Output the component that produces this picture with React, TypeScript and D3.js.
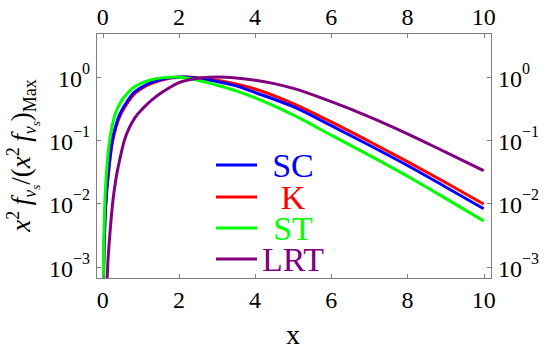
import React from "react";
import * as d3 from "d3";

const xTickValues = [0, 2, 4, 6, 8, 10];
const yTickExponents = [0, -1, -2, -3];
const yTickLabels = ["0", "−1", "−2", "−3"];

const seriesNames = ["SC", "K", "ST", "LRT"];
const seriesColors = ["#0000ff", "#ff0000", "#00ff00", "#800080"];

const scX = [0.01, 0.02, 0.05, 0.1, 0.15, 0.2, 0.25, 0.3, 0.4, 0.5, 0.65, 0.8, 1.0, 1.22, 1.5, 1.8, 2.1, 2.5, 3.0, 3.5, 4.0, 5.0, 6.0, 7.0, 8.0, 9.0, 10];
const scY = [1.58e-4, 6.31e-4, 0.00398, 0.0151, 0.0316, 0.0603, 0.1, 0.135, 0.219, 0.295, 0.417, 0.552, 0.676, 0.794, 0.902, 0.977, 1.0, 0.955, 0.851, 0.724, 0.569, 0.339, 0.17, 0.0832, 0.0398, 0.0182, 0.00824];

const kX = [0.01, 0.02, 0.05, 0.1, 0.15, 0.2, 0.25, 0.3, 0.4, 0.5, 0.65, 0.8, 1.0, 1.22, 1.5, 1.8, 2.2, 2.5, 3.0, 3.5, 4.0, 5.0, 6.0, 7.0, 8.0, 9.0, 10];
const kY = [1.41e-4, 5.62e-4, 0.00355, 0.0138, 0.0288, 0.055, 0.0891, 0.123, 0.2, 0.275, 0.389, 0.513, 0.646, 0.767, 0.881, 0.966, 1.0, 0.977, 0.891, 0.776, 0.646, 0.38, 0.195, 0.0955, 0.0457, 0.0214, 0.00977];

const stX = [0.01, 0.02, 0.05, 0.1, 0.15, 0.2, 0.3, 0.4, 0.5, 0.65, 0.8, 1.0, 1.3, 1.6, 1.9, 2.5, 3.0, 3.5, 4.0, 5.0, 6.0, 7.0, 8.0, 9.0, 10];
const stY = [2.82e-4, 0.00112, 0.00794, 0.0316, 0.0708, 0.1175, 0.229, 0.331, 0.427, 0.552, 0.676, 0.794, 0.912, 0.977, 1.0, 0.891, 0.741, 0.603, 0.468, 0.251, 0.12, 0.0575, 0.0269, 0.012, 0.00527];

const lrtX = [0.05, 0.1, 0.13, 0.2, 0.26, 0.35, 0.45, 0.57, 0.7, 0.85, 1.05, 1.3, 1.52, 1.75, 1.96, 2.3, 2.6, 3.0, 3.5, 4.0, 4.5, 5.0, 6.0, 7.0, 8.0, 9.0, 10];
const lrtY = [5.01e-5, 3.98e-4, 0.001, 0.00398, 0.01, 0.0251, 0.0501, 0.1, 0.158, 0.229, 0.316, 0.437, 0.552, 0.676, 0.794, 0.912, 0.977, 1.0, 0.966, 0.891, 0.785, 0.661, 0.407, 0.234, 0.126, 0.0646, 0.0329];

const seriesXs = [scX, kX, stX, lrtX];
const seriesYs = [scY, kY, stY, lrtY];
const drawOrder = [1, 0, 2, 3];

const W = 545;
const H = 351;
const L = 96, R = 492, T = 33, B = 279;
const FRAME = "#808080";
const FF = "Liberation Serif";

function T2(props: any) {
  const { children, italic, ...rest } = props;
  return (
    <text {...rest} style={{ fontFamily: FF, fontStyle: italic ? "italic" : "normal" }}>
      {children}
    </text>
  );
}

export default function App() {
  const x = d3.scaleLinear().domain([-0.176, 10.218]).range([L, R]);
  const y = d3.scaleLog().domain([Math.pow(10, -3.196), Math.pow(10, 0.696)]).range([B, T]);
  const line = d3
    .line<[number, number]>()
    .x((d) => x(d[0]))
    .y((d) => y(d[1]))
    .curve(d3.curveMonotoneX);

  const legendY = [165, 197, 228, 259];
  const it = { fontFamily: FF, fontStyle: "italic" as const };

  return (
    <svg width={W} height={H} style={{ position: "absolute", left: 0, top: 0, background: "#fff" }}>
      <defs>
        <clipPath id="plotclip">
          <rect x={L} y={T} width={R - L} height={B - T} />
        </clipPath>
      </defs>
      <rect x={0} y={0} width={W} height={H} fill="#fff" />

      <g clipPath="url(#plotclip)">
        {drawOrder.map((i) => {
          const pts = seriesXs[i].map((xv, j) => [xv, seriesYs[i][j]] as [number, number]);
          return (
            <path
              key={seriesNames[i]}
              d={line(pts) || ""}
              fill="none"
              stroke={seriesColors[i]}
              strokeWidth={3}
              strokeLinejoin="round"
            />
          );
        })}
      </g>

      <rect x={L + 0.5} y={T + 0.5} width={R - L - 1} height={B - T - 1} fill="none" stroke={FRAME} strokeWidth={1} />

      {xTickValues.map((v) => {
        const px = Math.round(x(v)) + 0.5;
        return (
          <g key={"xt" + v}>
            <line x1={px} x2={px} y1={B} y2={B - 5} stroke={FRAME} />
            <line x1={px} x2={px} y1={T} y2={T + 5} stroke={FRAME} />
            <T2 x={x(v)} y={308} textAnchor="middle" fontSize={24}>{String(v)}</T2>
            <T2 x={x(v)} y={25} textAnchor="middle" fontSize={24}>{String(v)}</T2>
          </g>
        );
      })}

      {yTickExponents.map((e, i) => {
        const py = Math.round(y(Math.pow(10, e))) + 0.5;
        return (
          <g key={"yt" + e}>
            <line x1={L} x2={L + 5} y1={py} y2={py} stroke={FRAME} />
            <line x1={R} x2={R - 5} y1={py} y2={py} stroke={FRAME} />
            <T2 x={90} y={py + 9.5} textAnchor="end" fontSize={24}>
              10<tspan dy={-13} fontSize={16}>{yTickLabels[i]}</tspan>
            </T2>
            <T2 x={498} y={py + 9.5} textAnchor="start" fontSize={24}>
              10<tspan dy={-13} fontSize={16}>{yTickLabels[i]}</tspan>
            </T2>
          </g>
        );
      })}

      <T2 x={293} y={344} textAnchor="middle" fontSize={28}>x</T2>
      <T2 transform="translate(30,155.5) rotate(-90)" textAnchor="middle" fontSize={27}>
        <tspan style={it}>x</tspan>
        <tspan dy={-11} fontSize={18}>2</tspan>
        <tspan style={it} dy={11}>{"\u2009f"}</tspan>
        <tspan style={it} dy={6} fontSize={18}>ν</tspan>
        <tspan style={it} dy={4} fontSize={13}>s</tspan>
        <tspan dy={-10}>/(</tspan>
        <tspan style={it}>x</tspan>
        <tspan dy={-11} fontSize={18}>2</tspan>
        <tspan style={it} dy={11}>{"\u2009f"}</tspan>
        <tspan style={it} dy={6} fontSize={18}>ν</tspan>
        <tspan style={it} dy={4} fontSize={13}>s</tspan>
        <tspan dy={-10}>)</tspan>
        <tspan dy={6} fontSize={18}>Max</tspan>
      </T2>

      {seriesNames.map((name, i) => (
        <g key={"lg" + name}>
          <line x1={216} x2={257} y1={legendY[i]} y2={legendY[i]} stroke={seriesColors[i]} strokeWidth={3} />
          <T2 x={293} y={legendY[i] + 12} textAnchor="middle" fontSize={34} fill={seriesColors[i]}>
            {name}
          </T2>
        </g>
      ))}
    </svg>
  );
}
